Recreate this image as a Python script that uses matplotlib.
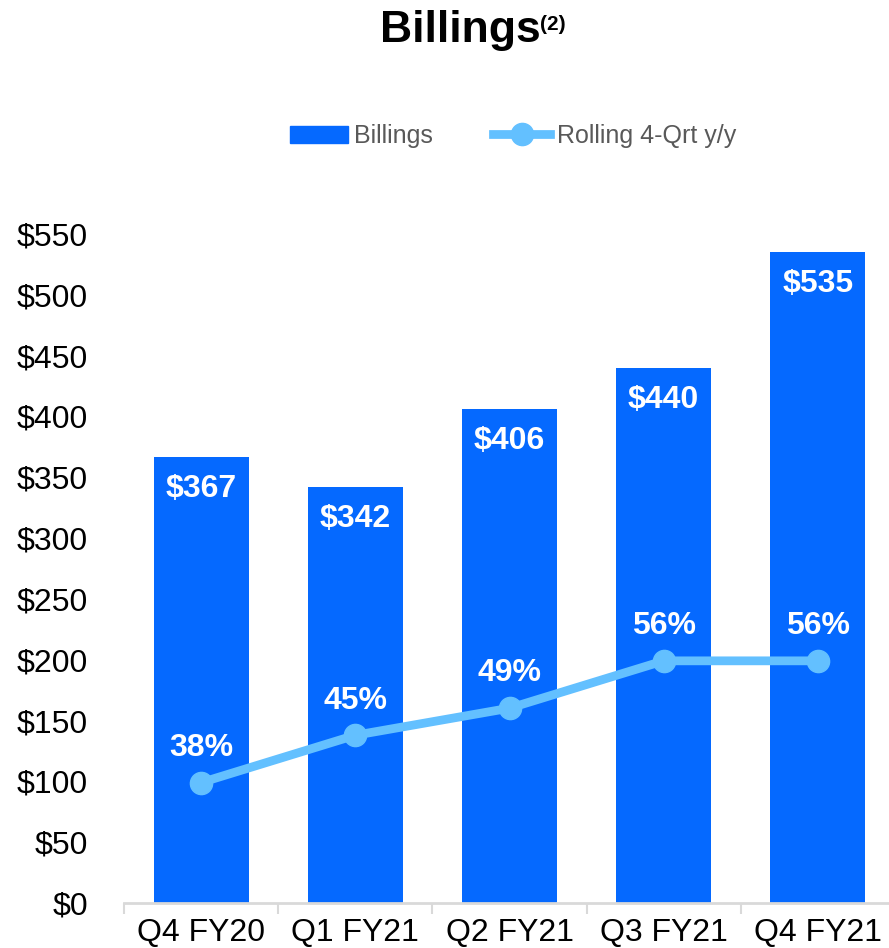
import matplotlib.pyplot as plt
from matplotlib.patches import Patch
from matplotlib.lines import Line2D

plt.rcParams['font.family'] = ['Liberation Sans', 'DejaVu Sans']

quarters = ['Q4 FY20', 'Q1 FY21', 'Q2 FY21', 'Q3 FY21', 'Q4 FY21']
billings = [367, 342, 406, 440, 535]
rolling_yy = [38, 45, 49, 56, 56]
yticks = [0, 50, 100, 150, 200, 250, 300, 350, 400, 450, 500, 550]

bar_col = '#0569ff'
line_col = '#63c0ff'

fig = plt.figure(figsize=(8.89, 9.48), dpi=100)
ax = fig.add_axes([124/889, 45/948, 771/889, 669/948])

x = list(range(len(quarters)))
ax.bar(x, billings, width=0.615, color=bar_col, zorder=2)
ax.set_xlim(-0.5, len(quarters) - 0.5)
ax.set_ylim(0, 550)

ax.set_yticks(yticks)
ax.set_yticklabels([f'${v}' for v in yticks])
ax.tick_params(axis='y', length=0, pad=26, labelsize=23)
ax.set_xticks(x)
ax.set_xticklabels(quarters)
ax.tick_params(axis='x', which='major', length=0, pad=11, labelsize=23)
ax.set_xticks([i - 0.5 for i in range(len(quarters) + 1)], minor=True)
ax.tick_params(axis='x', which='minor', length=8, width=1.5, color='#d9d9d9')

for s in ['top', 'right', 'left']:
    ax.spines[s].set_visible(False)
ax.spines['bottom'].set_color('#d9d9d9')
ax.spines['bottom'].set_linewidth(2)

# bar value labels inside the top of each bar
for xi, v in zip(x, billings):
    ax.annotate(f'${v}', (xi, v), xytext=(0, -23), textcoords='offset points',
                ha='center', va='center', color='white', fontsize=23,
                fontweight='bold', zorder=4)

# growth line on a hidden secondary axis
ax2 = ax.twinx()
ax2.set_ylim(20.2, 119.1)
ax2.axis('off')
ax2.plot(x, rolling_yy, color=line_col, lw=6.3, marker='o', ms=16, zorder=3)
for xi, v in zip(x, rolling_yy):
    ax2.annotate(f'{v}%', (xi, v), xytext=(0, 25), textcoords='offset points',
                 ha='center', va='center', color='white', fontsize=23,
                 fontweight='bold')

handles = [Patch(color=bar_col, label='Billings'),
           Line2D([0], [0], color=line_col, lw=6.3, marker='o', ms=16,
                  label='Rolling 4-Qrt y/y')]
fig.legend(handles=handles, loc='center', bbox_to_anchor=(513/889, 1 - 136/948),
           ncol=2, frameon=False, fontsize=18, labelcolor='#595959',
           handlelength=2.3, handletextpad=0.25, columnspacing=2.4)

fig.text(380/889, 1 - 42/948, 'Billings', fontsize=32, fontweight='bold',
         ha='left', va='baseline')
fig.text(540/889, 1 - 25/948, '(2)', fontsize=15, fontweight='bold',
         ha='left', va='center')

fig.savefig('out.png', dpi=100)
